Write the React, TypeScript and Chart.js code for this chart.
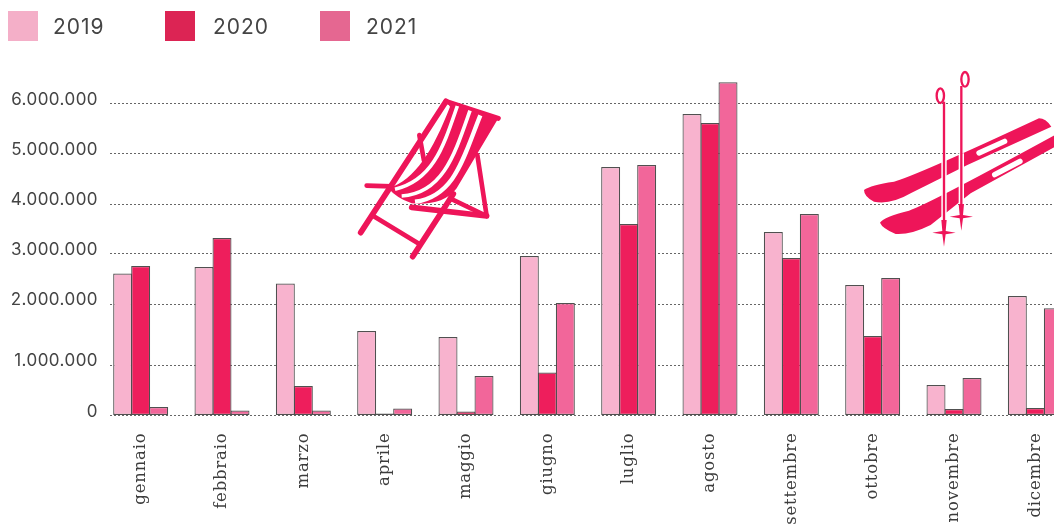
import React, { useEffect, useRef } from "react";
import { Chart, registerables, LinearScale } from "chart.js";

const months = ["gennaio","febbraio","marzo","aprile","maggio","giugno","luglio","agosto","settembre","ottobre","novembre","dicembre"];
const series2019 = [2610000,2740000,2410000,1557000,1459000,2960000,4740000,5800000,3440000,2380000,604000,2160000];
const series2020 = [2760000,3320000,584000,40000,79000,851000,3600000,5620000,2920000,1475000,129000,149000];
const series2021 = [168000,99000,99000,139000,782000,2020000,4780000,6420000,3800000,2520000,743000,1930000];
const legendNames = ["2019","2020","2021"];
const legendColors = ["#F4AFC8","#DC2454","#E56791"];
const barColors = ["#F8B3CE","#EE1E5C","#F2669A"];
// The reference's axis is not evenly spaced: tick value -> effective linear position
const tickValues = [0,1000000,2000000,3000000,4000000,5000000,6000000,7000000];
const tickPlaces = [0,973000,2148000,3112000,4075000,5039000,6002000,7000000];

const warp = (v: number) => {
  for (let i = 1; i < tickValues.length; i++) {
    if (v <= tickValues[i]) {
      const t = (v - tickValues[i-1]) / (tickValues[i] - tickValues[i-1]);
      return tickPlaces[i-1] + t * (tickPlaces[i] - tickPlaces[i-1]);
    }
  }
  return v;
};

class WarpedLinear extends LinearScale {
  static id = "warpedLinear";
  getPixelForValue(v: number) {
    return super.getPixelForValue(warp(v));
  }
  _computeGridLineItems(ca: any) {
    const items = super._computeGridLineItems(ca);
    items.forEach((i: any) => { i.x1 = ca.left + 10; });
    return items;
  }
  _computeLabelItems(ca: any) {
    const items = super._computeLabelItems(ca);
    items.forEach((i: any) => { i.options.translation = [i.options.translation[0], i.options.translation[1] - 4]; });
    return items;
  }
  drawLabels(ca: any) {
    const ctx: any = this.ctx;
    const prev = ctx.letterSpacing;
    ctx.letterSpacing = "0.45px";
    super.drawLabels(ca);
    ctx.letterSpacing = prev;
  }
}

Chart.register(...registerables, WarpedLinear);

const PINK = "#EE1559";

function drawChair(ctx: CanvasRenderingContext2D) {
  ctx.save();
  ctx.translate(340, 90);
  ctx.scale(1/3, 1/3);
  ctx.strokeStyle = PINK;
  ctx.fillStyle = PINK;
  ctx.lineCap = "round";
  ctx.lineJoin = "round";
  const line = (pts: number[], w: number) => {
    ctx.lineWidth = w;
    ctx.beginPath();
    ctx.moveTo(pts[0], pts[1]);
    for (let i = 2; i < pts.length; i += 2) ctx.lineTo(pts[i], pts[i+1]);
    ctx.stroke();
  };
  line([62,428,318,34], 17);
  line([318,34,475,85], 15);
  line([218,500,340,312], 17);
  line([100,378,238,462], 14);
  line([80,287,155,289], 14);
  line([412,195,440,378], 14);
  line([215,352,440,378], 17);
  line([330,325,440,378], 14);
  line([238,135,252,212], 14);
  // sling
  ctx.beginPath();
  ctx.moveTo(318,34);
  ctx.lineTo(475,85);
  ctx.lineTo(350,295);
  ctx.bezierCurveTo(320,335,270,345,215,340);
  ctx.quadraticCurveTo(170,325,145,295);
  ctx.bezierCurveTo(225,270,280,180,330,50);
  ctx.closePath();
  ctx.fill();
  ctx.strokeStyle = "#fff";
  ctx.lineCap = "butt";
  ctx.lineWidth = 11;
  ctx.beginPath(); ctx.moveTo(352,48); ctx.bezierCurveTo(310,170,280,270,165,298); ctx.stroke();
  ctx.beginPath(); ctx.moveTo(390,62); ctx.bezierCurveTo(345,190,310,310,185,318); ctx.stroke();
  ctx.lineWidth = 13;
  ctx.beginPath(); ctx.moveTo(421,76); ctx.bezierCurveTo(371,200,345,320,225,335); ctx.stroke();
  ctx.restore();
}

function drawSkis(ctx: CanvasRenderingContext2D) {
  ctx.save();
  ctx.translate(854, 60);
  ctx.scale(1/3, 1/3);
  ctx.fillStyle = PINK;
  ctx.beginPath();
  ctx.moveTo(555,175);
  ctx.quadraticCurveTo(575,175,592,200);
  ctx.lineTo(340,315);
  ctx.lineTo(170,400);
  ctx.quadraticCurveTo(110,435,60,425);
  ctx.quadraticCurveTo(30,410,30,390);
  ctx.quadraticCurveTo(50,375,120,365);
  ctx.quadraticCurveTo(180,350,555,175);
  ctx.fill();
  ctx.beginPath();
  ctx.moveTo(640,205);
  ctx.lineTo(640,240);
  ctx.lineTo(350,400);
  ctx.lineTo(230,495);
  ctx.quadraticCurveTo(170,525,125,522);
  ctx.quadraticCurveTo(85,505,78,488);
  ctx.quadraticCurveTo(90,470,165,452);
  ctx.quadraticCurveTo(220,435,640,205);
  ctx.fill();
  // binding windows
  ctx.strokeStyle = "#fff";
  ctx.lineCap = "round";
  ctx.lineWidth = 16;
  ctx.beginPath(); ctx.moveTo(375,279); ctx.lineTo(452,244); ctx.stroke();
  ctx.beginPath(); ctx.moveTo(422,344); ctx.lineTo(498,304); ctx.stroke();
  // poles
  ctx.lineCap = "butt";
  ctx.lineWidth = 16;
  ctx.beginPath(); ctx.moveTo(270,300); ctx.lineTo(270,480); ctx.moveTo(322,280); ctx.lineTo(322,430); ctx.stroke();
  const pole = (x: number, top: number, basket: number, lx: number, ly: number) => {
    ctx.strokeStyle = PINK;
    ctx.lineWidth = 7;
    ctx.beginPath(); ctx.moveTo(x, top); ctx.lineTo(x, basket - 30); ctx.stroke();
    ctx.lineWidth = 7;
    ctx.beginPath(); ctx.ellipse(lx, ly, 11, 22, 0, 0, Math.PI * 2); ctx.stroke();
    ctx.fillStyle = PINK;
    ctx.beginPath();
    ctx.moveTo(x - 8, basket - 38);
    ctx.lineTo(x + 8, basket - 38);
    ctx.lineTo(x + 5, basket - 5);
    ctx.lineTo(x + 35, basket);
    ctx.lineTo(x + 5, basket + 5);
    ctx.lineTo(x, basket + 42);
    ctx.lineTo(x - 5, basket + 5);
    ctx.lineTo(x - 35, basket);
    ctx.lineTo(x - 5, basket - 5);
    ctx.closePath();
    ctx.fill();
  };
  pole(270, 125, 518, 259, 107);
  pole(322, 78, 470, 333, 58);
  ctx.restore();
}

const decorations = {
  id: "decorations",
  beforeDraw(chart: any) {
    chart.ctx.letterSpacing = "0.8px";
  },
  afterDraw(chart: any) {
    chart.ctx.letterSpacing = "0px";
    drawChair(chart.ctx);
    drawSkis(chart.ctx);
  },
};

export default function App() {
  const ref = useRef<HTMLCanvasElement>(null);
  useEffect(() => {
    const chart = new Chart(ref.current as HTMLCanvasElement, {
      type: "bar",
      data: {
        labels: months,
        datasets: [series2019, series2020, series2021].map((data, i) => ({
          label: legendNames[i],
          data,
          backgroundColor: barColors[i],
          borderColor: "#505050",
          borderWidth: 1.2,
          borderSkipped: false,
          barPercentage: 1.055,
          categoryPercentage: 0.664,
        })),
      },
      options: {
        animation: false,
        responsive: false,
        layout: { padding: { top: 52.2, left: 0, right: 0, bottom: 0 } },
        plugins: { legend: { display: false }, tooltip: { enabled: false } },
        scales: {
          x: {
            grid: { display: false },
            border: { display: false },
            afterFit: (s: any) => { s.height = 144.5; },
            ticks: {
              autoSkip: false,
              minRotation: 90,
              maxRotation: 90,
              padding: 9,
              color: "#3c3c3c",
              font: { family: "'DejaVu Serif'", size: 16.5 },
            },
          },
          y: {
            type: "warpedLinear",
            axis: "y",
            min: 0,
            max: 7000000,
            afterFit: (s: any) => { s.width = 100; },
            afterBuildTicks: (s: any) => {
              s.ticks = tickValues.slice(0, 7).map((value) => ({ value }));
            },
            grid: { color: "#666", lineWidth: 1, drawTicks: false },
            border: { display: false, dash: [2, 2] },
            ticks: {
              padding: 2,
              color: "#444",
              font: { family: "Inter", size: 17 },
              callback: (v: any) => Number(v).toLocaleString("de-DE"),
            },
          },
        },
      } as any,
      plugins: [decorations],
    } as any);
    return () => chart.destroy();
  }, []);
  const legendX = [8, 165, 320];
  const textX = [53, 213, 366];
  return (
    <div style={{ position: "absolute", left: 0, top: 0, width: 1054, height: 524, overflow: "hidden", background: "#fff" }}>
      <canvas ref={ref} width={1076} height={560} style={{ position: "absolute", left: 0, top: 0, display: "block" }} />
      {legendNames.map((n, i) => (
        <React.Fragment key={n}>
          <div style={{ position: "absolute", left: legendX[i], top: 11, width: 30, height: 30, background: legendColors[i] }} />
          <div style={{ position: "absolute", left: textX[i], top: 13, lineHeight: "28px", fontFamily: "Inter", fontSize: 21, letterSpacing: "1px", color: "#444" }}>{n}</div>
        </React.Fragment>
      ))}
    </div>
  );
}
